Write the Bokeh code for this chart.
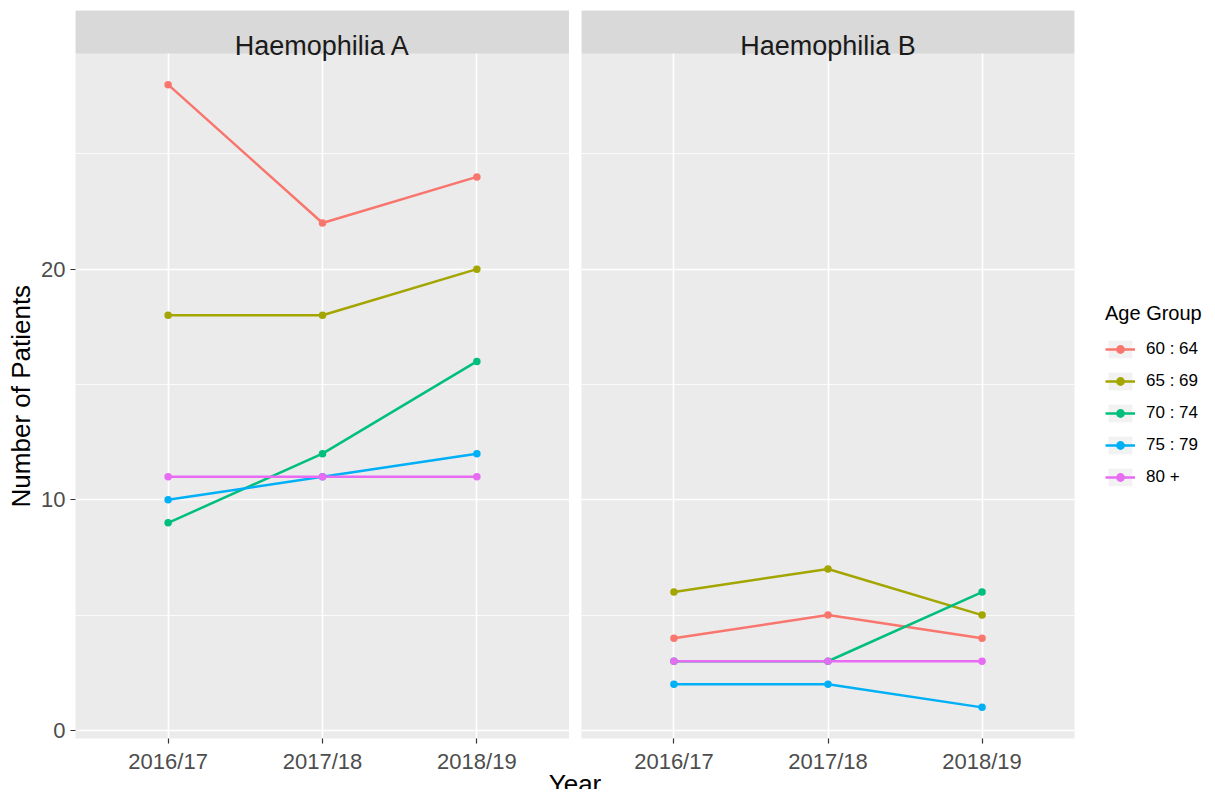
from bokeh.plotting import figure
from bokeh.models import (FactorRange, Range1d, FixedTicker, BoxAnnotation, Label,
                          Legend, LegendItem, Spacer)
from bokeh.layouts import row, column
from bokeh.embed import file_html
from bokeh.resources import INLINE

# ---------------- data ----------------
years = ["2016/17", "2017/18", "2018/19"]
groups = ["60 : 64", "65 : 69", "70 : 74", "75 : 79", "80 +"]
colors = ["#F8766D", "#A3A500", "#00BF7D", "#00B0F6", "#E76BF3"]
panel_titles = ["Haemophilia A", "Haemophilia B"]

a_60_64 = [28, 22, 24]
a_65_69 = [18, 18, 20]
a_70_74 = [9, 12, 16]
a_75_79 = [10, 11, 12]
a_80_plus = [11, 11, 11]

b_60_64 = [4, 5, 4]
b_65_69 = [6, 7, 5]
b_70_74 = [3, 3, 6]
b_75_79 = [2, 2, 1]
b_80_plus = [3, 3, 3]

y_ticks = [0, 10, 20]
y_minor_ticks = [5, 15, 25]

series_a = [a_60_64, a_65_69, a_70_74, a_75_79, a_80_plus]
series_b = [b_60_64, b_65_69, b_70_74, b_75_79, b_80_plus]

# ---------------- styling / geometry ----------------
FONT = "Liberation Sans"
Y_LO, Y_HI = -0.35, 29.35
TOP_PX, PANEL_PX, STRIP_PX, BOTTOM_PX = 10, 685, 43, 50
FRAME_H = PANEL_PX + STRIP_PX
ROW_H = TOP_PX + FRAME_H + BOTTOM_PX
Y_END = Y_HI + (Y_HI - Y_LO) * STRIP_PX / PANEL_PX
PA_LEFT = 75
# the axis title is centred on the whole frame (strip included); non-breaking
# spaces at its (upper) end move the visible words down to the data panel's centre
Y_TITLE = "Number of Patients" + "\u00a0" * 6


def make_panel(title, series, left_border, frame_w, border_right):
    p = figure(
        x_range=FactorRange(factors=years, range_padding=0.1, range_padding_units="absolute"),
        y_range=Range1d(Y_LO, Y_END),
        frame_width=frame_w, frame_height=FRAME_H,
        min_border_left=left_border, min_border_right=border_right,
        min_border_top=TOP_PX, min_border_bottom=BOTTOM_PX,
        y_axis_location="left" if left_border else None,
        output_backend="svg", toolbar_location=None,
        background_fill_color="#EBEBEB", border_fill_color="white",
        outline_line_color=None,
    )
    # grids
    p.xgrid.grid_line_color = "white"
    p.xgrid.grid_line_width = 1.6
    p.ygrid.ticker = FixedTicker(ticks=y_ticks, minor_ticks=y_minor_ticks)
    p.ygrid.grid_line_color = "white"
    p.ygrid.grid_line_width = 1.6
    p.ygrid.minor_grid_line_color = "white"
    p.ygrid.minor_grid_line_width = 0.8

    # x axis
    xa = p.xaxis[0]
    xa.axis_line_color = None
    xa.major_tick_out = 5
    xa.major_tick_in = 0
    xa.major_tick_line_color = "#333333"
    xa.major_tick_line_width = 1.2
    xa.major_label_standoff = 5
    xa.major_label_text_font = FONT
    xa.major_label_text_font_size = "22px"
    xa.major_label_text_color = "#4D4D4D"

    if left_border:
        ya = p.yaxis[0]
        ya.ticker = FixedTicker(ticks=y_ticks)
        ya.bounds = (Y_LO, Y_HI)
        ya.axis_line_color = None
        ya.major_tick_out = 5
        ya.major_tick_in = 0
        ya.minor_tick_out = 0
        ya.minor_tick_in = 0
        ya.major_tick_line_color = "#333333"
        ya.major_tick_line_width = 1.2
        ya.major_label_standoff = 5
        ya.major_label_text_font = FONT
        ya.major_label_text_font_size = "22px"
        ya.major_label_text_color = "#4D4D4D"
        ya.axis_label = Y_TITLE
        ya.axis_label_standoff = 2
        ya.axis_label_text_font = FONT
        ya.axis_label_text_font_size = "26px"
        ya.axis_label_text_font_style = "normal"
        ya.axis_label_text_color = "black"

    # facet strip
    p.add_layout(BoxAnnotation(bottom=Y_HI, top=Y_END, fill_color="#D9D9D9", fill_alpha=1.0,
                               line_color=None, level="annotation"))
    p.add_layout(Label(x=frame_w / 2, y=FRAME_H - 35, x_units="screen", y_units="screen",
                       text=title, text_align="center", text_baseline="alphabetic",
                       text_font=FONT, text_font_size="27px", text_color="#1A1A1A"))

    lines, points = [], []
    for c, vals in zip(colors, series):
        lines.append(p.line(years, vals, line_color=c, line_width=2.5))
    for c, vals in zip(colors, series):
        points.append(p.scatter(years, vals, marker="circle", size=7.5,
                                fill_color=c, line_color=None))
    return p, lines, points


pa, la, sa = make_panel(panel_titles[0], series_a, PA_LEFT, 494, 0)
pb, lb, sb = make_panel(panel_titles[1], series_b, 0, 493, 133)

# key background (zero-size rects: visible only as legend key fill)
key_bg = pb.rect(x=years, y=b_80_plus, width=0, height=0, fill_color="#F2F2F2", line_color=None)

legend = Legend(
    items=[LegendItem(label=g, renderers=[key_bg, l, s]) for g, l, s in zip(groups, lb, sb)],
    location=(31, 250), orientation="vertical",
    title="Age Group", title_text_font=FONT, title_text_font_size="20px",
    title_text_font_style="normal", title_text_color="black", title_standoff=13,
    label_text_font=FONT, label_text_font_size="17px", label_text_color="black",
    glyph_width=30, glyph_height=22, label_height=22, label_standoff=11,
    spacing=10, padding=10, margin=0,
    border_line_color=None, background_fill_color="white", background_fill_alpha=1.0,
)
pb.add_layout(legend, "right")

# shared x-axis title (transparent canvas overlapping the bottom border)
YF_H = 40
yf = figure(x_range=Range1d(0, 1), y_range=Range1d(0, YF_H),
            frame_width=494 + 12 + 493, frame_height=YF_H,
            min_border_left=PA_LEFT, min_border_right=0, min_border_top=0, min_border_bottom=0,
            x_axis_location=None, y_axis_location=None,
            output_backend="svg", toolbar_location=None,
            outline_line_color=None, background_fill_color=None, border_fill_color=None)
yf.xgrid.visible = False
yf.ygrid.visible = False
yf.add_layout(Label(x=0.5, y=6, text="Year", text_align="center", text_baseline="alphabetic",
                    text_font=FONT, text_font_size="26px", text_color="black"))
yf.margin = (800 - YF_H - ROW_H - 11, 0, 0, 0)

layout = column(row(pa, Spacer(width=12, height=10), pb), yf)

open("out.html", "w").write(file_html(layout, INLINE))
